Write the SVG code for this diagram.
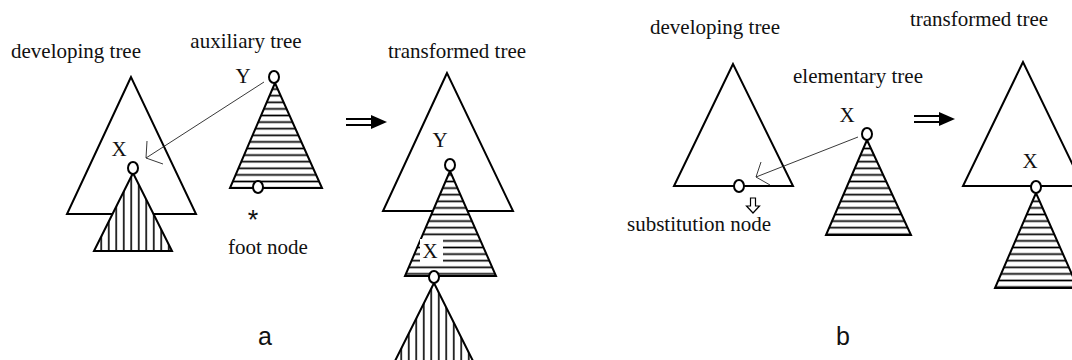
<svg xmlns="http://www.w3.org/2000/svg" width="1072" height="360" viewBox="0 0 1072 360">
<style>
.t{font-family:"Liberation Serif","Times New Roman",serif;font-size:21px;fill:#111;text-anchor:middle}
.s{font-family:"Liberation Sans",Arial,sans-serif;font-size:25px;fill:#111;text-anchor:middle}
.tri{fill:#fff;stroke:#000;stroke-width:2;stroke-linejoin:miter}
.hz{fill:url(#hz);stroke:#000;stroke-width:2}
.vt{fill:url(#vt);stroke:#000;stroke-width:2}
.nd{fill:#fff;stroke:#000;stroke-width:2}
.con{fill:none;stroke:#222;stroke-width:0.9}
</style>
<defs>
<pattern id="hz" patternUnits="userSpaceOnUse" width="10" height="6.6">
<rect width="10" height="6.6" fill="#fff"/>
<line x1="0" y1="3.3" x2="10" y2="3.3" stroke="#000" stroke-width="1.7"/>
</pattern>
<pattern id="vt" patternUnits="userSpaceOnUse" width="7.5" height="10">
<rect width="7.5" height="10" fill="#fff"/>
<line x1="3.75" y1="0" x2="3.75" y2="10" stroke="#000" stroke-width="1.6"/>
</pattern>
</defs>
<rect width="1072" height="360" fill="#fff"/>

<!-- Part a -->
<g id="a-developing">
<text class="t" x="76" y="58">developing tree</text>
<polygon class="tri" points="131,77 67,214 196,214"/>
<text class="t" x="119" y="156">X</text>
<polygon class="vt" points="133,173 94,251 172,251"/>
<ellipse class="nd" cx="133" cy="168" rx="5" ry="6"/>
</g>

<g id="a-auxiliary">
<text class="t" x="246" y="48">auxiliary tree</text>
<text class="t" x="243" y="83">Y</text>
<polygon class="hz" points="275,83 230,188 322,188"/>
<ellipse class="nd" cx="274" cy="77" rx="5" ry="6"/>
<ellipse class="nd" cx="258" cy="187" rx="5" ry="6"/>
<text x="253" y="229" style="font-family:'Liberation Sans',Arial,sans-serif;font-size:27px;fill:#111;text-anchor:middle">*</text>
<text class="t" x="268" y="254">foot node</text>
</g>

<g id="a-transformed">
<text class="t" x="457" y="58">transformed tree</text>
<polygon class="tri" points="447,73 383,211 513,211"/>
<text class="t" x="440" y="147">Y</text>
<polygon class="hz" points="450,171 405,276 496,276"/>
<rect x="420" y="239" width="23" height="24" fill="#fff"/>
<text class="t" x="430" y="258">X</text>
<polygon class="vt" points="434,283 395,361 473,361"/>
<ellipse class="nd" cx="450" cy="165" rx="5" ry="6"/>
<ellipse class="nd" cx="434" cy="277" rx="5" ry="6"/>
</g>

<g id="label-a"><text class="s" x="265" y="345">a</text></g>

<!-- Part b -->
<g id="b-developing">
<text class="t" x="715" y="34">developing tree</text>
<polygon class="tri" points="733,64 674,186 793,186"/>
<ellipse class="nd" cx="739" cy="186" rx="5" ry="6"/>
<polygon points="750.5,198 755.5,198 755.5,206 759.5,206 753,213 746.5,206 750.5,206" fill="#fff" stroke="#000" stroke-width="1.2"/>
<text class="t" x="699" y="231">substitution node</text>
</g>

<g id="b-elementary">
<text class="t" x="858" y="83">elementary tree</text>
<text class="t" x="847" y="122">X</text>
<polygon class="hz" points="867,140 826,235 911,235"/>
<ellipse class="nd" cx="867" cy="134" rx="5" ry="6"/>
</g>

<g id="b-transformed">
<text class="t" x="979" y="26">transformed tree</text>
<polygon class="tri" points="1023,62 963,186 1083,186"/>
<text class="t" x="1030" y="168">X</text>
<polygon class="hz" points="1036,193 995,288 1078,288"/>
<ellipse class="nd" cx="1036" cy="187" rx="5" ry="6"/>
</g>

<g id="label-b"><text class="s" x="843" y="345">b</text></g>

<g id="connectors">
<line class="con" x1="264" y1="82" x2="146" y2="158"/>
<polyline class="con" points="147,141 146,158 163,164"/>
<line class="con" x1="858" y1="137" x2="756" y2="177"/>
<polyline class="con" points="761,162 756,177 770,185"/>
<g id="a-double-arrow">
<line x1="346" y1="119" x2="373" y2="119" stroke="#000" stroke-width="2"/>
<line x1="346" y1="125" x2="373" y2="125" stroke="#000" stroke-width="2"/>
<polygon points="371,115 387,122 371,129" fill="#000"/>
</g>
<g id="b-double-arrow">
<line x1="914" y1="116" x2="941" y2="116" stroke="#000" stroke-width="2"/>
<line x1="914" y1="122" x2="941" y2="122" stroke="#000" stroke-width="2"/>
<polygon points="939,112 955,119 939,126" fill="#000"/>
</g>
</g>
</svg>
